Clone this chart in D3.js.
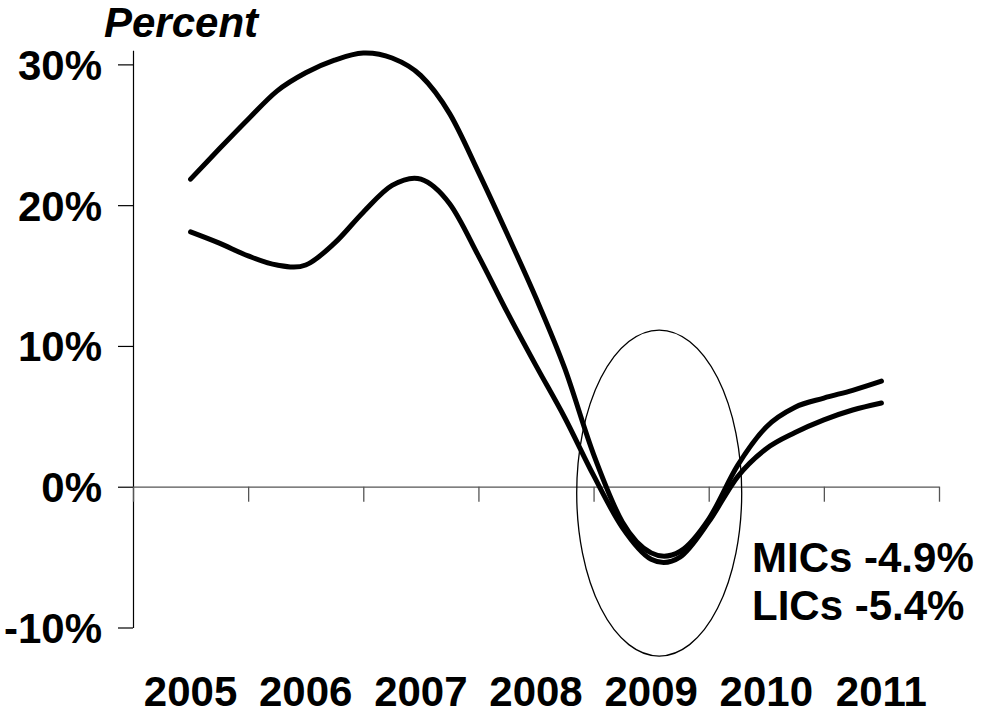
<!DOCTYPE html>
<html>
<head>
<meta charset="utf-8">
<script src="https://cdn.jsdelivr.net/npm/d3@7"></script>
<style>
  html, body { margin: 0; padding: 0; background: #fff; }
  svg { display: block; font-family: "Liberation Sans", Arial, sans-serif; }
</style>
</head>
<body>
<svg id="chart" width="984" height="715"></svg>
<script>
// ---- Data (quarterly) ----
const years = [2005, 2006, 2007, 2008, 2009, 2010, 2011];
const yTicks = [-10, 0, 10, 20, 30];
const quarters = [
  2005.5, 2005.75, 2006.0, 2006.25, 2006.5, 2006.75, 2007.0, 2007.25, 2007.5,
  2007.75, 2008.0, 2008.25, 2008.5, 2008.75, 2009.0, 2009.25, 2009.5, 2009.75,
  2010.0, 2010.25, 2010.5, 2010.75, 2011.0, 2011.25, 2011.5
];
const micsValues = [
  21.85, 24.0, 26.1, 28.1, 29.4, 30.3, 30.8, 30.45, 29.2,
  26.5, 22.35, 17.95, 13.4, 8.4, 2.3, -2.5, -4.7, -4.6,
  -2.3, 1.5, 4.25, 5.65, 6.3, 6.85, 7.5
];
const licsValues = [
  18.1, 17.3, 16.4, 15.75, 15.75, 17.3, 19.5, 21.4, 21.85,
  20.1, 16.4, 12.4, 8.6, 4.9, 0.8, -2.9, -5.15, -5.0,
  -2.5, 0.7, 2.7, 3.85, 4.75, 5.45, 5.95
];
const annotations = ["MICs -4.9%", "LICs -5.4%"];
const troughHighlight = { year: 2009.57, value: -0.45, rYears: 0.7165, rValue: 11.58 };

// ---- Scales ----
const svg = d3.select("#chart");
const x = d3.scaleLinear().domain([2005, 2012]).range([133, 939]);
const y = d3.scaleLinear().domain([-10, 31]).range([627.5, 50.3]);

const font = '"Liberation Sans", Arial, sans-serif';

// ---- Y axis ----
const yAxis = svg.append("g").attr("transform", `translate(${x(2005)},0)`)
  .call(d3.axisLeft(y).tickValues(yTicks).tickSize(15).tickSizeOuter(0).tickFormat(d => d + "%"));
yAxis.select(".domain").attr("stroke", "#000").attr("stroke-width", 1.2);
yAxis.selectAll(".tick line").attr("stroke", "#000").attr("stroke-width", 1.2);
yAxis.selectAll(".tick text")
  .attr("x", -31).attr("dy", null).attr("y", 15)
  .attr("fill", "#000")
  .style("font-family", font).style("font-size", "42px").style("font-weight", "bold");

// ---- X axis at zero ----
const xAxis = svg.append("g").attr("transform", `translate(0,${y(0)})`)
  .call(d3.axisBottom(x).tickValues(d3.range(2005, 2013)).tickSize(15).tickSizeOuter(0).tickFormat(""));
xAxis.select(".domain").attr("stroke", "#555").attr("stroke-width", 1.3);
xAxis.selectAll(".tick line").attr("stroke", "#555").attr("stroke-width", 1.3);

// Year labels centred in each year band, at the bottom
svg.append("g").selectAll("text").data(years).join("text")
  .attr("x", d => x(d + 0.5)).attr("y", 706)
  .attr("text-anchor", "middle")
  .style("font-family", font).style("font-size", "42px").style("font-weight", "bold")
  .text(d => d);

// Axis title
svg.append("text").attr("x", 104).attr("y", 37)
  .style("font-family", font).style("font-size", "42px")
  .style("font-weight", "bold").style("font-style", "italic")
  .text("Percent");

// ---- Lines ----
const line = d3.line()
  .x((d, i) => x(quarters[i]))
  .y(d => y(d))
  .curve(d3.curveCardinal.tension(0));

[micsValues, licsValues].forEach(vals => {
  svg.append("path").datum(vals)
    .attr("d", line)
    .attr("fill", "none")
    .attr("stroke", "#000")
    .attr("stroke-width", 5)
    .attr("stroke-linecap", "round")
    .attr("stroke-linejoin", "round");
});

// ---- Trough highlight ellipse ----
svg.append("ellipse")
  .attr("cx", x(troughHighlight.year))
  .attr("cy", y(troughHighlight.value))
  .attr("rx", x(2005 + troughHighlight.rYears) - x(2005))
  .attr("ry", y(0) - y(troughHighlight.rValue))
  .attr("fill", "none").attr("stroke", "#000").attr("stroke-width", 1.3);

// ---- Annotations ----
svg.append("g").selectAll("text").data(annotations).join("text")
  .attr("x", 752).attr("y", (d, i) => 571.5 + i * 48.5)
  .style("font-family", font).style("font-size", "42px").style("font-weight", "bold")
  .text(d => d);
</script>
</body>
</html>
